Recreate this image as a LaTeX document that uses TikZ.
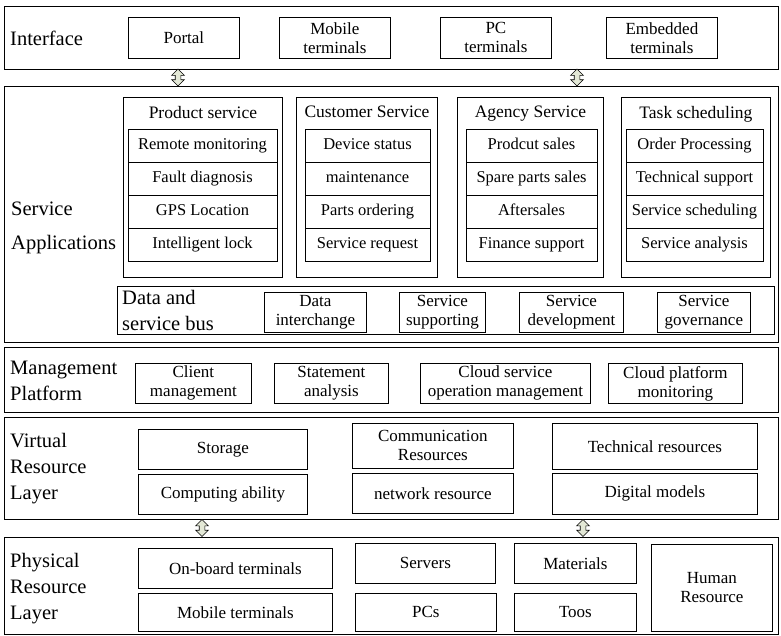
\documentclass[tikz,border=0pt]{standalone}
\usepackage{fontspec}
\setmainfont{Liberation Serif}
\usetikzlibrary{positioning, shapes.arrows}
\definecolor{arrowfill}{HTML}{E3E8D6}

\begin{document}
\begin{tikzpicture}[x=1pt,y=-1pt,
  layer/.style={draw, line width=1.1pt, anchor=north west, inner sep=0pt},
  panel/.style={draw, line width=0.9pt, anchor=north west, inner sep=0pt, minimum height=180},
  item/.style={draw, line width=0.8pt, anchor=north west, inner sep=0pt, align=center,
    font=\fontsize{17}{19}\selectfont},
  row/.style={draw, line width=0.8pt, anchor=north west, inner sep=0pt, outer sep=0pt,
    minimum width=#1, minimum height=33, text height=11.5pt, text depth=3.5pt,
    font=\fontsize{16.5}{19}\selectfont},
  hdr/.style={inner sep=0pt, font=\fontsize{17.5}{19}\selectfont},
  lbl/.style={anchor=west, align=left, inner sep=0pt, font=\fontsize{20.5}{26}\selectfont},
  biarrow/.style={double arrow, draw, fill=arrowfill, line width=0.6pt, rotate=90,
    minimum height=17pt, inner sep=2.5pt, double arrow head extend=3.5pt}]
\useasboundingbox (0,0) rectangle (781,635);

% define the layers
  \node[layer, minimum width=774, minimum height=63]   (iface) at (4,6) {};
  \node[layer, minimum width=774, minimum height=256]  (svc)   at (4,86) {};
  \node[layer, minimum width=774, minimum height=65]   (mgmt)  at (4,347) {};
  \node[layer, minimum width=774, minimum height=102]  (virt)  at (4,417) {};
  \node[layer, minimum width=774, minimum height=96.5] (phys)  at (4,537) {};

  \node[lbl] (ifacel) at (10,38) {Interface};
  \node[lbl, font=\fontsize{20.5}{34}\selectfont] (svcl) at (11,228) {Service\\Applications};
  \node[lbl] (mgmtl) at (10,381) {Management\\Platform};
  \node[lbl] (virtl) at (10,469) {Virtual\\Resource\\Layer};
  \node[lbl] (physl) at (10,589) {Physical\\Resource\\Layer};

% interface
  \node[item, minimum width=111, minimum height=41] (portal) at (128,17) {Portal};
  \node[item, minimum width=111, minimum height=41] (mobt)   at (279,17) {Mobile\\terminals};
  \node[item, minimum width=111, minimum height=41] (pct)    at (440,17) {PC\\terminals};
  \node[item, minimum width=111, minimum height=41] (embt)   at (606,17) {Embedded\\terminals};

% service applications
  \node[panel, minimum width=159] (prod) at (123,97) {};
  \node[panel, minimum width=141] (cust) at (296,97) {};
  \node[panel, minimum width=146] (agen) at (457,97) {};
  \node[panel, minimum width=149] (task) at (621,97) {};

  \node[hdr] (prodh) [below=9pt of prod.north] {Product service};
  \node[hdr] (custh) [below=9pt of cust.north] {Customer Service};
  \node[hdr] (agenh) [below=9pt of agen.north] {Agency Service};
  \node[hdr] (taskh) [below=9pt of task.north] {Task scheduling};

  \node[row=149] (prod1) at (128,129) {Remote monitoring};
  \node[row=149] (prod2) [below=0pt of prod1] {Fault diagnosis};
  \node[row=149] (prod3) [below=0pt of prod2] {GPS Location};
  \node[row=149] (prod4) [below=0pt of prod3] {Intelligent lock};

  \node[row=125] (cust1) at (305,129) {Device status};
  \node[row=125] (cust2) [below=0pt of cust1] {maintenance};
  \node[row=125] (cust3) [below=0pt of cust2] {Parts ordering};
  \node[row=125] (cust4) [below=0pt of cust3] {Service request};

  \node[row=131] (agen1) at (466,129) {Prodcut sales};
  \node[row=131] (agen2) [below=0pt of agen1] {Spare parts sales};
  \node[row=131] (agen3) [below=0pt of agen2] {Aftersales};
  \node[row=131] (agen4) [below=0pt of agen3] {Finance support};

  \node[row=137] (task1) at (626,129) {Order Processing};
  \node[row=137] (task2) [below=0pt of task1] {Technical support};
  \node[row=137] (task3) [below=0pt of task2] {Service scheduling};
  \node[row=137] (task4) [below=0pt of task3] {Service analysis};

% data and service bus
  \node[layer, line width=0.9pt, minimum width=657, minimum height=48] (bus) at (117,286) {};
  \node[lbl] (busl) at (122,310) {Data and\\service bus};
  \node[item, minimum width=102, minimum height=40] (dint) at (264,292) {Data\\interchange};
  \node[item, minimum width=86,  minimum height=40] (ssup) at (399,292) {Service\\supporting};
  \node[item, minimum width=104, minimum height=40] (sdev) at (519,292) {Service\\development};
  \node[item, minimum width=93,  minimum height=40] (sgov) at (657,292) {Service\\governance};

% management platform
  \node[item, minimum width=116, minimum height=40] (cman) at (135,363) {Client\\management};
  \node[item, minimum width=114, minimum height=40] (stat) at (274,363) {Statement\\analysis};
  \node[item, minimum width=170, minimum height=40] (csom) at (420,363) {Cloud service\\operation management};
  \node[item, minimum width=134, minimum height=40] (cpmo) at (608,363) {Cloud platform\\monitoring};

% virtual resource layer
  \node[item, minimum width=169, minimum height=40] (stor) at (138,429) {Storage};
  \node[item, minimum width=169, minimum height=40] (comp) at (138,474) {Computing ability};
  \node[item, minimum width=161, minimum height=45] (comm) at (352,423) {Communication\\Resources};
  \node[item, minimum width=161, minimum height=40] (netr) at (352,473) {network resource};
  \node[item, minimum width=205, minimum height=46] (tech) at (552,423) {Technical resources};
  \node[item, minimum width=205, minimum height=41] (digi) at (552,473) {Digital models};

% physical resource layer
  \node[item, minimum width=194, minimum height=40] (onbd) at (138,548) {On-board terminals};
  \node[item, minimum width=194, minimum height=38] (mobl) at (138,593) {Mobile terminals};
  \node[item, minimum width=140, minimum height=40] (serv) at (355,543) {Servers};
  \node[item, minimum width=141, minimum height=38] (pcs)  at (355,593) {PCs};
  \node[item, minimum width=122, minimum height=40] (matl) at (514,543) {Materials};
  \node[item, minimum width=122, minimum height=38] (toos) at (514,593) {Toos};
  \node[item, minimum width=121, minimum height=87] (hres) at (651,544) {Human\\Resource};

% define the links between layers
  \node[biarrow] (ar1) at (178,77.5) {};
  \node[biarrow] (ar2) at (577,77.5) {};
  \node[biarrow] (ar3) at (202,528) {};
  \node[biarrow] (ar4) at (583,528) {};

\end{tikzpicture}
\end{document}
